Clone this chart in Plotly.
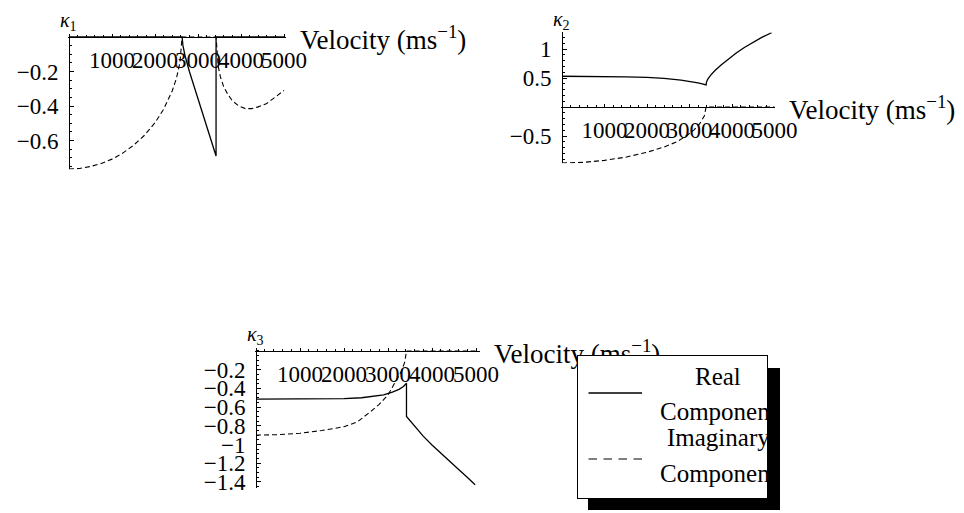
import plotly.graph_objects as go

W, H = 964, 513

# ---------------- data ----------------
velocity_ticks = [1000, 2000, 3000, 4000, 5000]
velocity_tick_text = ["1000", "2000", "3000", "4000", "5000"]

# kappa_1
k1_real_v = [0, 2630, 2650, 2700, 2800, 2900, 3000, 3100, 3200, 3300, 3420, 3420, 5000]
k1_real = [0, 0, -0.05, -0.11, -0.20, -0.28, -0.355, -0.43, -0.51, -0.59, -0.69, 0, 0]
k1_imag_v = [0, 250, 500, 750, 1000, 1250, 1500, 1750, 2000, 2200, 2400, 2500, 2580, 2630,
             3420, 3440, 3470, 3520, 3600, 3700, 3800, 3950, 4100, 4250, 4400, 4600, 4800, 5000]
k1_imag = [-0.765, -0.762, -0.751, -0.733, -0.708, -0.673, -0.628, -0.571, -0.497, -0.419,
           -0.313, -0.238, -0.148, 0,
           0, -0.10, -0.17, -0.23, -0.29, -0.335, -0.37, -0.40, -0.415, -0.415, -0.405,
           -0.385, -0.35, -0.31]

# kappa_2
k2_real_v = [0, 500, 1000, 1500, 2000, 2400, 2800, 3000, 3200, 3300, 3390,
             3400, 3430, 3500, 3600, 3750, 3900, 4100, 4300, 4500, 4700, 4930]
k2_real = [0.53, 0.53, 0.525, 0.52, 0.51, 0.495, 0.465, 0.445, 0.415, 0.40, 0.38,
           0.43, 0.48, 0.55, 0.63, 0.73, 0.82, 0.93, 1.03, 1.12, 1.20, 1.28]
k2_imag_v = [0, 500, 1000, 1500, 2000, 2400, 2700, 2900, 3100, 3250, 3350, 3390, 5000]
k2_imag = [-0.965, -0.955, -0.92, -0.865, -0.78, -0.69, -0.60, -0.51, -0.40, -0.28, -0.15, 0, 0]

# kappa_3
k3_real_v = [0, 1000, 2000, 2400, 2700, 2900, 3100, 3250, 3350, 3420,
             3420, 3500, 3600, 3800, 4000, 4200, 4400, 4600, 4800, 4980]
k3_real = [-0.515, -0.515, -0.51, -0.50, -0.485, -0.47, -0.44, -0.41, -0.38, -0.345,
           -0.70, -0.745, -0.80, -0.91, -1.005, -1.095, -1.18, -1.265, -1.35, -1.43]
k3_imag_v = [0, 500, 1000, 1500, 2000, 2300, 2600, 2800, 3000, 3150, 3300, 3380, 3420, 5000]
k3_imag = [-0.90, -0.895, -0.88, -0.85, -0.81, -0.76, -0.65, -0.57, -0.47, -0.35, -0.22, -0.12, 0, 0]

M = "\u2212"  # typographic minus sign
panels = [
    dict(name="1", real=(k1_real_v, k1_real), imag=(k1_imag_v, k1_imag),
         yticks=[-0.2, -0.4, -0.6], ytext=[M + "0.2", M + "0.4", M + "0.6"], yminor=0.05),
    dict(name="2", real=(k2_real_v, k2_real), imag=(k2_imag_v, k2_imag),
         yticks=[1, 0.5, -0.5], ytext=["1", "0.5", M + "0.5"], yminor=0.1),
    dict(name="3", real=(k3_real_v, k3_real), imag=(k3_imag_v, k3_imag),
         yticks=[-0.2, -0.4, -0.6, -0.8, -1, -1.2, -1.4],
         ytext=[M + "0.2", M + "0.4", M + "0.6", M + "0.8", M + "1", M + "1.2", M + "1.4"],
         yminor=0.05),
]

legend_rows = ["Real", "Component", "Imaginary", "Component"]

# ---------------- frame geometry (pixels) ----------------
# origin pixel, pixels per unit, and axis ranges for each panel
frames = [
    dict(ox=69, oy=37, sx=0.043, sy=172.5, xr=[-20, 5050], yr=[-0.768, 0.018]),
    dict(ox=562, oy=107, sx=0.0425, sy=58.0, xr=[-20, 5020], yr=[-0.97, 1.29]),
    dict(ox=256, oy=351, sx=0.044, sy=93.5, xr=[-20, 5090], yr=[-1.47, 0.035]),
]

SERIF = "Liberation Serif, Times New Roman, serif"
AXIS_LABEL = "Velocity (ms<sup>\u22121</sup>)"
TICK_SIZE = 23

fig = go.Figure()
layout = dict(
    width=W, height=H, margin=dict(l=0, r=0, t=0, b=0, autoexpand=False),
    paper_bgcolor="white", plot_bgcolor="rgba(0,0,0,0)",
    showlegend=False, font=dict(family=SERIF, size=22, color="black"),
)
annotations = []


def px(xp, yp):
    """pixel position (from top-left) -> paper coordinates"""
    return xp / W, 1 - yp / H


for i, (p, f) in enumerate(zip(panels, frames)):
    sfx = "" if i == 0 else str(i + 1)
    xa, ya = "x" + sfx, "y" + sfx
    x0 = f["ox"] + (f["xr"][0]) * f["sx"]
    x1 = f["ox"] + (f["xr"][1]) * f["sx"]
    ytop = f["oy"] - f["yr"][1] * f["sy"]
    ybot = f["oy"] - f["yr"][0] * f["sy"]

    layout["xaxis" + sfx] = dict(
        domain=[x0 / W, x1 / W], range=f["xr"], anchor="free", position=1 - f["oy"] / H,
        showgrid=False, zeroline=False, showline=True, linecolor="black", linewidth=1,
        ticks="inside", ticklen=3, tickcolor="black", tickwidth=1,
        tickmode="array", tickvals=velocity_ticks, ticktext=velocity_tick_text,
        tickangle=0, tickfont=dict(family=SERIF, size=TICK_SIZE, color="black"),
        ticklabelstandoff=2,
        minor=dict(ticks="inside", ticklen=2, tickcolor="black", tick0=0, dtick=200),
    )
    layout["yaxis" + sfx] = dict(
        domain=[1 - ybot / H, 1 - ytop / H], range=f["yr"], anchor="free", position=f["ox"] / W,
        showgrid=False, zeroline=False, showline=True, linecolor="black", linewidth=1,
        ticks="inside", ticklen=4, tickcolor="black", tickwidth=1,
        tickmode="array", tickvals=p["yticks"], ticktext=p["ytext"],
        tickfont=dict(family=SERIF, size=TICK_SIZE, color="black"), ticklabelstandoff=6,
        minor=dict(ticks="inside", ticklen=2, tickcolor="black", tick0=0, dtick=p["yminor"]),
    )

    fig.add_trace(go.Scatter(x=p["real"][0], y=p["real"][1], mode="lines",
                             line=dict(color="black", width=1.3), xaxis=xa, yaxis=ya,
                             cliponaxis=False, hoverinfo="skip"))
    fig.add_trace(go.Scatter(x=p["imag"][0], y=p["imag"][1], mode="lines",
                             line=dict(color="black", width=1.1, dash="5px,3px"),
                             xaxis=xa, yaxis=ya, cliponaxis=False, hoverinfo="skip"))

    # axis label just past the end of the velocity axis
    lx, ly = px(x1 + 12, f["oy"] + 1)
    annotations.append(dict(
        text=AXIS_LABEL, xref="paper", yref="paper", x=lx, y=ly,
        xanchor="left", yanchor="middle", showarrow=False,
        font=dict(family=SERIF, size=27, color="black"),
    ))
    # kappa label above the vertical axis
    kx, ky = px(f["ox"] - 1, ytop - 12)
    annotations.append(dict(
        text="<i>\u03ba</i><sub>" + p["name"] + "</sub>", xref="paper", yref="paper",
        x=kx, y=ky, xanchor="center", yanchor="middle", showarrow=False,
        font=dict(family=SERIF, size=20, color="black"),
    ))

# ---------------- legend box with drop shadow ----------------
# drawn as annotations so that it sits on top of the last axis label
bx0, by0, bw, bh = 577, 355, 190, 143
sx_, sy_ = px(bx0 + 11, by0 + 13)
annotations.append(dict(
    text=" ", xref="paper", yref="paper", x=sx_, y=sy_, xanchor="left", yanchor="top",
    width=bw + 2, height=bh - 1, borderpad=0, borderwidth=0, bgcolor="black",
    showarrow=False, font=dict(size=4),
))
bxp, byp = px(bx0, by0)
annotations.append(dict(
    text=" ", xref="paper", yref="paper", x=bxp, y=byp, xanchor="left", yanchor="top",
    width=bw - 1, height=bh - 1, borderpad=0, borderwidth=1, bordercolor="black",
    bgcolor="white", showarrow=False, font=dict(size=4),
))


def sample_segment(xa_px, xb_px, y_px, width):
    ex, ey = px(xb_px, y_px)
    return dict(text="", xref="paper", yref="paper", x=ex, y=ey, ax=xa_px - xb_px, ay=0,
                showarrow=True, arrowhead=0, arrowwidth=width, arrowcolor="black",
                standoff=0, startstandoff=0)


# solid sample
annotations.append(sample_segment(587, 642, 393, 1.3))
# dashed sample: 10px dashes, 5px gaps
for k in range(4):
    a = 587 + 15 * k
    annotations.append(sample_segment(a, a + 10, 459, 1.1))

for txt, ypx in zip(legend_rows, [376, 411, 437, 473]):
    tx, ty = px(718, ypx)
    annotations.append(dict(
        text=txt, xref="paper", yref="paper", x=tx, y=ty,
        xanchor="center", yanchor="middle", showarrow=False,
        font=dict(family=SERIF, size=25, color="black"),
    ))

layout["annotations"] = annotations
fig.update_layout(**layout)
fig.write_html("out.html")
